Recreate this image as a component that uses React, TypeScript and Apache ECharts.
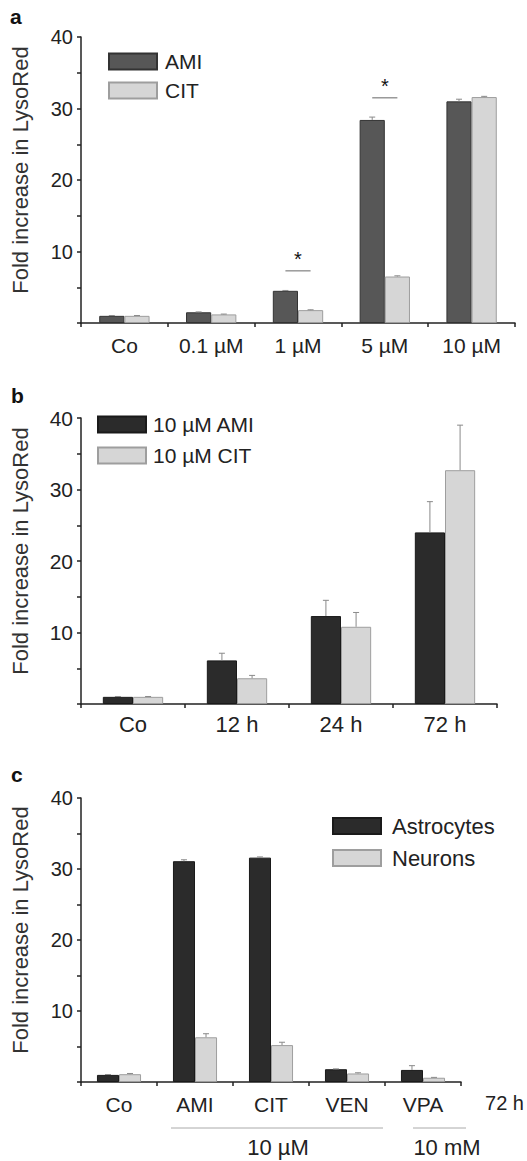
import React, { useEffect, useRef } from "react";
import * as echarts from "echarts";

// ---------- data ----------
const catsA = ["Co", "0.1 µM", "1 µM", "5 µM", "10 µM"];
const amiA = [1.0, 1.5, 4.5, 28.4, 31.0];
const citA = [1.0, 1.2, 1.8, 6.5, 31.6];
const amiAErr = [0.05, 0.05, 0.05, 0.4, 0.3];
const citAErr = [0.05, 0.05, 0.05, 0.1, 0.1];
const sigA = [
  [2, 7.3],
  [3, 31.5],
];

const catsB = ["Co", "12 h", "24 h", "72 h"];
const amiB = [1.0, 6.1, 12.3, 24.0];
const citB = [1.0, 3.6, 10.8, 32.7];
const amiBErr = [0.05, 1.0, 2.2, 4.3];
const citBErr = [0.05, 0.4, 2.0, 6.3];

const catsC = ["Co", "AMI", "CIT", "VEN", "VPA"];
const astro = [1.0, 31.1, 31.6, 1.8, 1.7];
const neur = [1.1, 6.3, 5.2, 1.2, 0.6];
const astroErr = [0.05, 0.2, 0.1, 0.05, 0.6];
const neurErr = [0.1, 0.5, 0.4, 0.1, 0.05];

const yTitle = "Fold increase in LysoRed";
const FONT = "Liberation Sans, Arial, sans-serif";
const GAP = 0.42;

const darkA = "#575757";
const dark = "#2b2b2b";
const light = "#d6d6d6";
const lightBorder = "#9e9e9e";

function errData(vals: number[], errs: number[], which: number) {
  return vals.map((v, i) => [i, v, errs[i], which]);
}

function errRender(params: any, api: any) {
  const cat = api.value(0);
  const v = api.value(1);
  const e = api.value(2);
  const w = api.value(3);
  const band = api.size([1, 0])[0];
  const barW = (band * (1 - GAP)) / 2;
  const base = api.coord([cat, v]);
  const top = api.coord([cat, v + e]);
  const x = base[0] + (w === 0 ? -barW / 2 : barW / 2);
  const st = { stroke: "#8a8a8a", lineWidth: 1 };
  return {
    type: "group",
    children: [
      { type: "line", shape: { x1: x, y1: base[1], x2: x, y2: top[1] }, style: st },
      { type: "line", shape: { x1: x - 3, y1: top[1], x2: x + 3, y2: top[1] }, style: st },
    ],
  };
}

function sigRender(params: any, api: any) {
  const cat = api.value(0);
  const y = api.value(1);
  const band = api.size([1, 0])[0];
  const barW = (band * (1 - GAP)) / 2;
  const p = api.coord([cat, y]);
  return {
    type: "group",
    children: [
      {
        type: "line",
        shape: { x1: p[0] - barW / 2, y1: p[1], x2: p[0] + barW / 2, y2: p[1] },
        style: { stroke: "#9a9a9a", lineWidth: 1.5 },
      },
      {
        type: "text",
        x: p[0],
        y: p[1] - 2,
        style: {
          text: "*",
          fontSize: 20,
          fontFamily: FONT,
          fill: "#111",
          align: "center",
          verticalAlign: "bottom",
        },
      },
    ],
  };
}

function xAxisCfg(gi: number, cats: string[], fs: number, margin: number) {
  return {
    type: "category",
    gridIndex: gi,
    data: cats,
    axisLine: { lineStyle: { color: "#222", width: 1.5 } },
    axisTick: { show: true, length: 4, lineStyle: { color: "#222", width: 1.5 } },
    axisLabel: { color: "#222", fontSize: fs, fontFamily: FONT, margin, interval: 0 },
    splitLine: { show: false },
  };
}

function yAxisCfg(gi: number, fs: number, nameGap: number) {
  return {
    type: "value",
    gridIndex: gi,
    min: 0,
    max: 40,
    interval: 5,
    name: yTitle,
    nameLocation: "middle",
    nameGap,
    nameTextStyle: { color: "#333", fontSize: 22, fontFamily: FONT, padding: [0, 0, 0, 20] },
    axisLine: { show: true, lineStyle: { color: "#222", width: 1.5 } },
    axisTick: { show: true, length: 4, lineStyle: { color: "#222", width: 1.5 } },
    axisLabel: {
      color: "#222",
      fontSize: fs,
      fontFamily: FONT,
      margin: 8,
      formatter: (v: number) => (v !== 0 && v % 10 === 0 ? String(v) : ""),
    },
    splitLine: { show: false },
  };
}

function barSeries(name: string, data: number[], gi: number, color: string, border: string) {
  return {
    name,
    type: "bar",
    xAxisIndex: gi,
    yAxisIndex: gi,
    data,
    barGap: "0%",
    barCategoryGap: GAP * 100 + "%",
    itemStyle: { color, borderColor: border, borderWidth: 1 },
  };
}

function errSeries(gi: number, data: any[]) {
  return {
    type: "custom",
    xAxisIndex: gi,
    yAxisIndex: gi,
    data,
    encode: { x: 0, y: 1 },
    renderItem: errRender,
    z: 5,
    silent: true,
  };
}

export default function App() {
  const ref = useRef<HTMLDivElement>(null);
  useEffect(() => {
    if (!ref.current) return;
    const chart = echarts.init(ref.current, null, { renderer: "svg" });
    const legendBase = {
      orient: "vertical",
      icon: "rect",
      itemWidth: 48,
      itemHeight: 16,
      selectedMode: false,
    };
    chart.setOption({
      animation: false,
      backgroundColor: "#fff",
      grid: [
        { left: 81, top: 37, width: 434, height: 286 },
        { left: 81, top: 418, width: 416, height: 286 },
        { left: 81, top: 798, width: 380, height: 284 },
      ],
      xAxis: [
        xAxisCfg(0, catsA, 21, 12),
        xAxisCfg(1, catsB, 22, 9),
        xAxisCfg(2, catsC, 21, 12),
      ],
      yAxis: [yAxisCfg(0, 20, 50), yAxisCfg(1, 21, 50), yAxisCfg(2, 20, 50)],
      legend: [
        {
          ...legendBase,
          left: 103,
          top: 46,
          itemGap: 8,
          data: ["AMI", "CIT"],
          textStyle: { fontSize: 21, fontFamily: FONT, color: "#222", padding: [0, 0, 0, 3] },
        },
        {
          ...legendBase,
          left: 92,
          top: 409,
          itemGap: 10,
          data: ["10 µM AMI", "10 µM CIT"],
          textStyle: { fontSize: 21, fontFamily: FONT, color: "#222", padding: [0, 0, 0, 2] },
        },
        {
          ...legendBase,
          left: 327,
          top: 810,
          itemGap: 10,
          data: ["Astrocytes", "Neurons"],
          textStyle: { fontSize: 22, fontFamily: FONT, color: "#222", padding: [0, 0, 0, 6] },
        },
      ],
      series: [
        barSeries("AMI", amiA, 0, darkA, "#333"),
        barSeries("CIT", citA, 0, light, lightBorder),
        barSeries("10 µM AMI", amiB, 1, dark, "#1a1a1a"),
        barSeries("10 µM CIT", citB, 1, light, lightBorder),
        barSeries("Astrocytes", astro, 2, dark, "#1a1a1a"),
        barSeries("Neurons", neur, 2, light, lightBorder),
        errSeries(0, [...errData(amiA, amiAErr, 0), ...errData(citA, citAErr, 1)]),
        errSeries(1, [...errData(amiB, amiBErr, 0), ...errData(citB, citBErr, 1)]),
        errSeries(2, [...errData(astro, astroErr, 0), ...errData(neur, neurErr, 1)]),
        {
          type: "custom",
          xAxisIndex: 0,
          yAxisIndex: 0,
          data: sigA,
          encode: { x: 0, y: 1 },
          renderItem: sigRender,
          z: 6,
          silent: true,
        },
      ],
      graphic: [
        { type: "text", left: 10, top: 6, style: { text: "a", fontSize: 21, fontWeight: "bold", fontFamily: FONT, fill: "#111" } },
        { type: "text", left: 11, top: 385, style: { text: "b", fontSize: 21, fontWeight: "bold", fontFamily: FONT, fill: "#111" } },
        { type: "text", left: 11, top: 764, style: { text: "c", fontSize: 21, fontWeight: "bold", fontFamily: FONT, fill: "#111" } },
        { type: "text", x: 524, y: 1103, style: { text: "72 h", fontSize: 20, fontFamily: FONT, fill: "#222", align: "right", verticalAlign: "middle" } },
        { type: "line", shape: { x1: 171, y1: 1128, x2: 383, y2: 1128 }, style: { stroke: "#aaa", lineWidth: 1 } },
        { type: "line", shape: { x1: 413, y1: 1128, x2: 466, y2: 1128 }, style: { stroke: "#aaa", lineWidth: 1 } },
        { type: "text", x: 278, y: 1147, style: { text: "10 µM", fontSize: 22, fontFamily: FONT, fill: "#222", align: "center", verticalAlign: "middle" } },
        { type: "text", x: 447, y: 1147, style: { text: "10 mM", fontSize: 22, fontFamily: FONT, fill: "#222", align: "center", verticalAlign: "middle" } },
      ],
    });
    return () => chart.dispose();
  }, []);
  return (
    <div
      ref={ref}
      style={{ position: "absolute", left: 0, top: 0, width: 527, height: 1161 }}
    />
  );
}
